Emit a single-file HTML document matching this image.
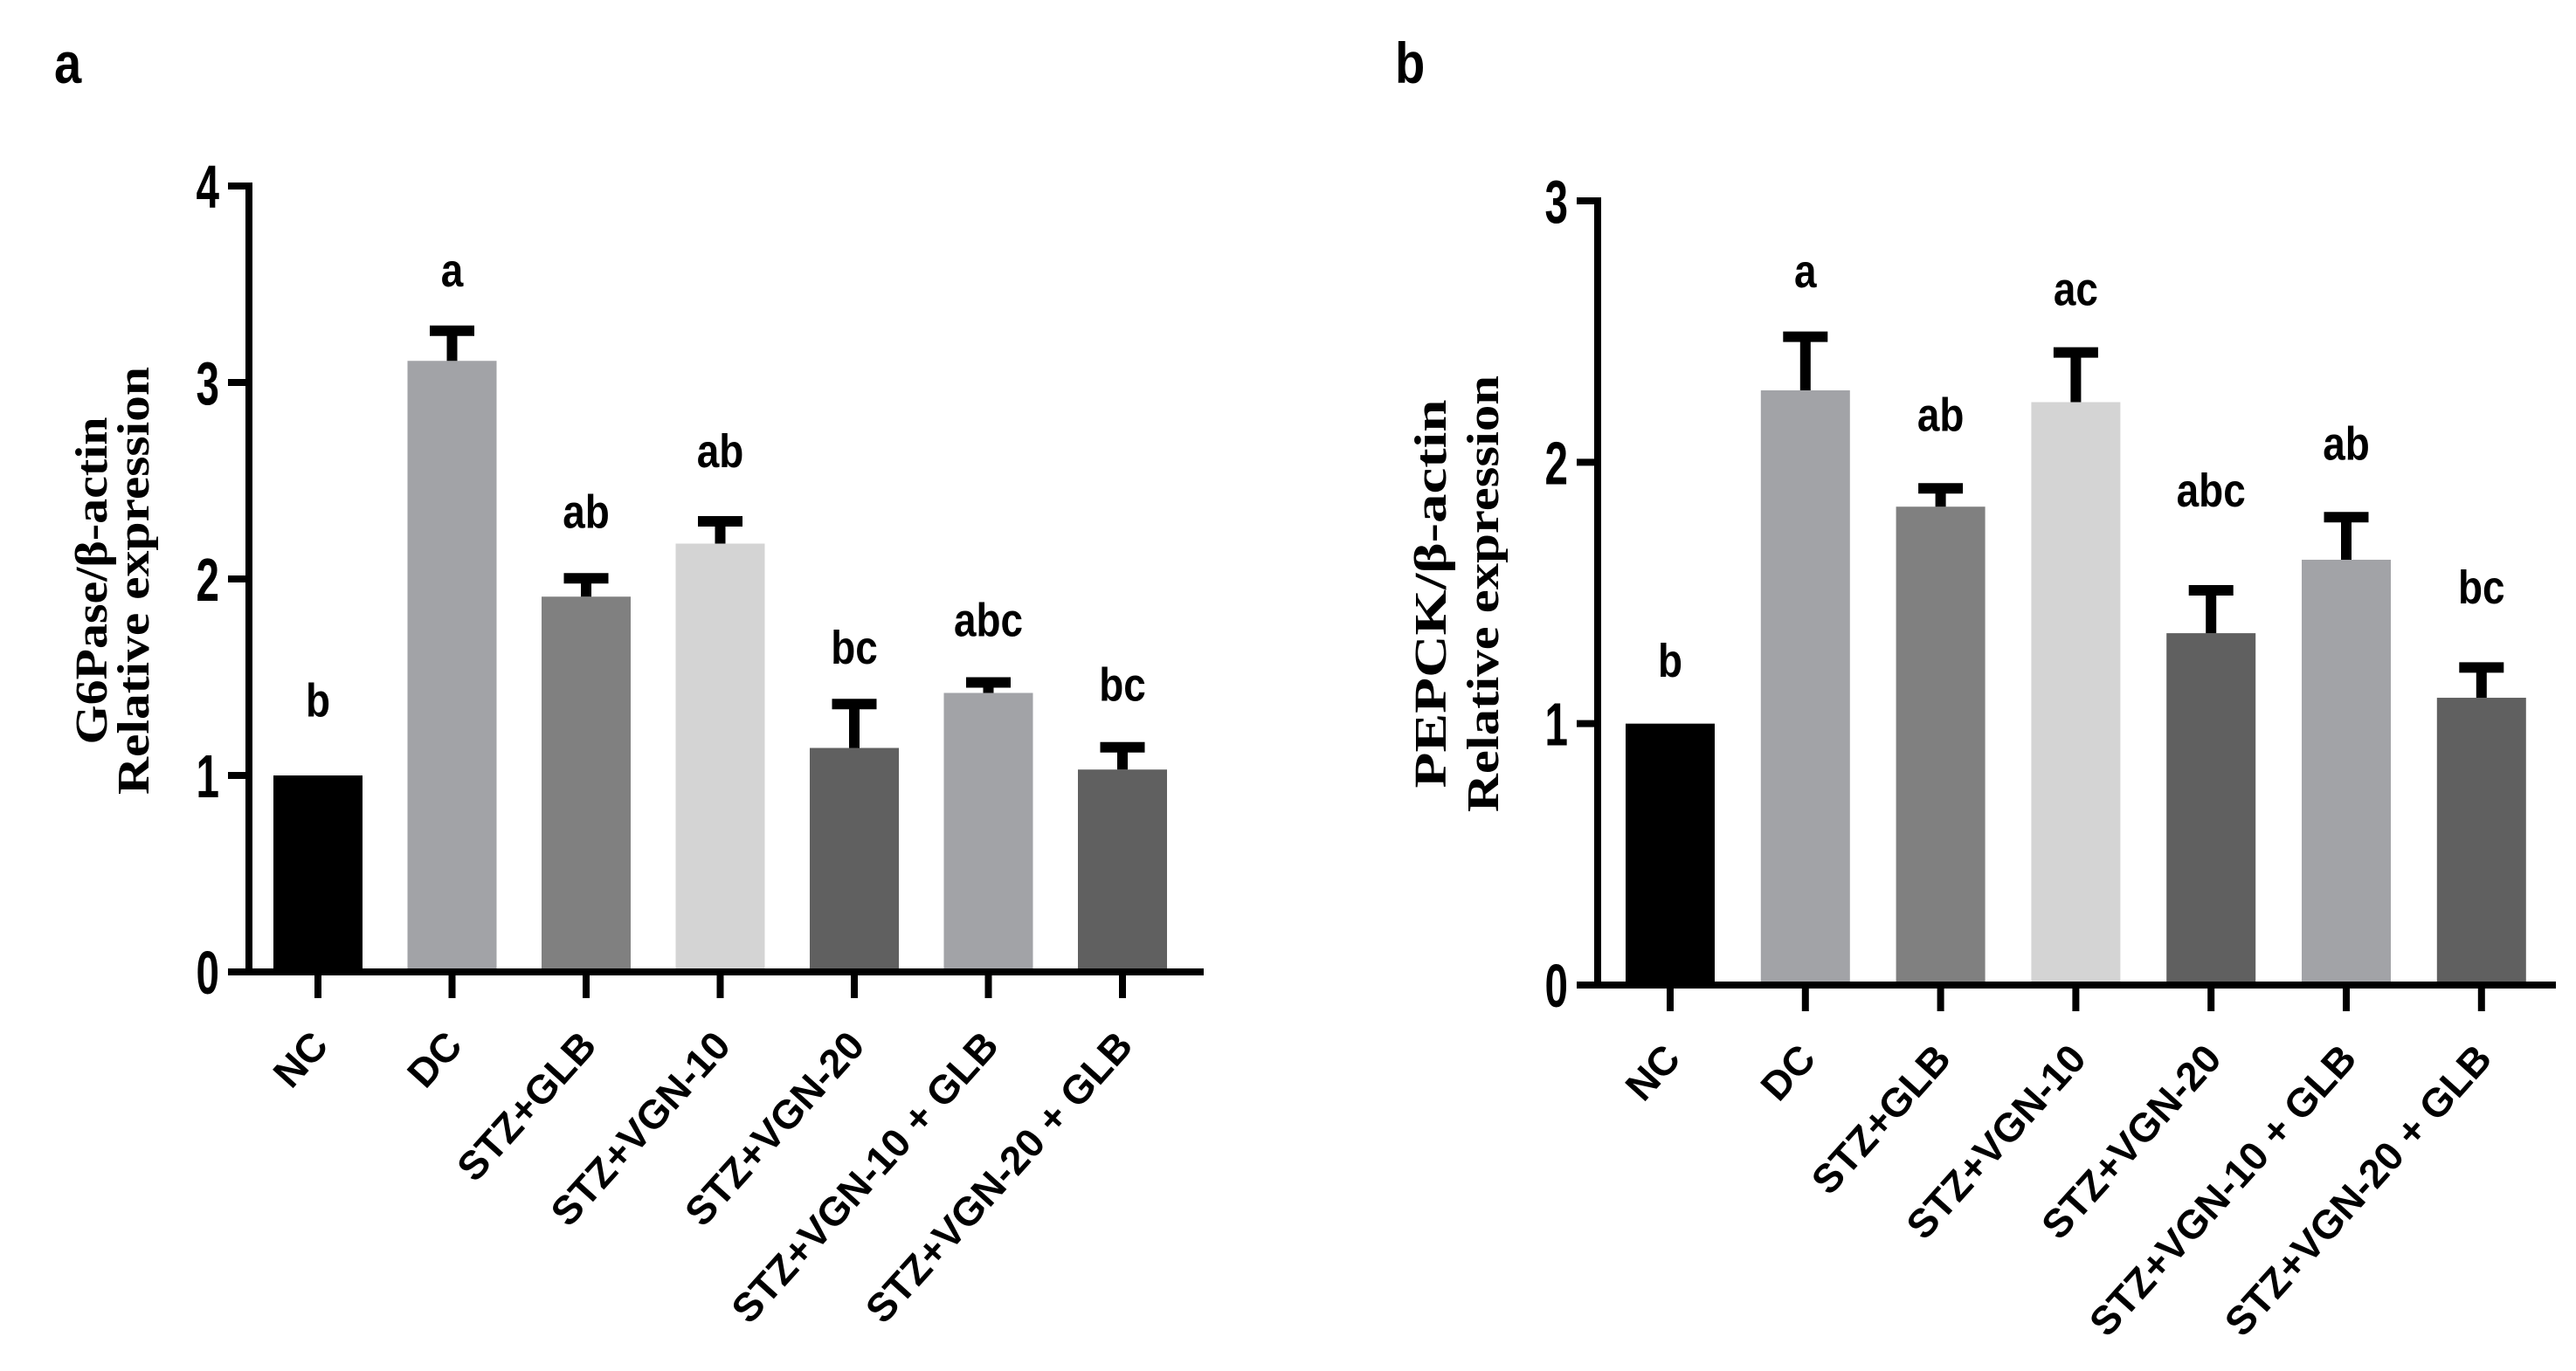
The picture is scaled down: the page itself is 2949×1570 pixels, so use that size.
<!DOCTYPE html>
<html><head><meta charset="utf-8"><style>
html,body{margin:0;padding:0;background:#fff;}
svg{display:block;}
text{font-family:"Liberation Sans",sans-serif;font-weight:bold;}
</style></head><body>
<svg id="fig" width="2949" height="1570" viewBox="0 0 2949 1570" xmlns="http://www.w3.org/2000/svg">
<rect width="2949" height="1570" fill="#fff"/>
</svg>
<script>
const categories = ["NC","DC","STZ+GLB","STZ+VGN-10","STZ+VGN-20","STZ+VGN-10 + GLB","STZ+VGN-20 + GLB"];
const colors = ["#000000","#a2a3a7","#808080","#d4d4d4","#606060","#a2a3a7","#606060"];
const g6pValues = [1.0, 3.11, 1.91, 2.18, 1.14, 1.42, 1.03];
const g6pErrTops = [1.0, 3.29, 2.03, 2.32, 1.39, 1.50, 1.17];
const g6pLetters = ["b","a","ab","ab","bc","abc","bc"];
const g6pLetterY = [1.30, 3.49, 2.26, 2.57, 1.57, 1.71, 1.38];
const g6pTicks = [0,1,2,3,4];
const pepValues = [1.0, 2.275, 1.83, 2.23, 1.346, 1.627, 1.099];
const pepErrTops = [1.0, 2.50, 1.92, 2.44, 1.53, 1.81, 1.235];
const pepLetters = ["b","a","ab","ac","abc","ab","bc"];
const pepLetterY = [1.18, 2.67, 2.12, 2.60, 1.83, 2.01, 1.46];
const pepTicks = [0,1,2,3];

const NS="http://www.w3.org/2000/svg";
const svg=document.getElementById('fig');
function mk(tag,attrs,parent,txt){const e=document.createElementNS(NS,tag);for(const k in attrs)e.setAttribute(k,attrs[k]);if(txt!==undefined)e.textContent=txt;(parent||svg).appendChild(e);return e;}

function panel(o){
  const g=mk('g',{});
  
  
  const y=v=>o.y0-(v/o.ymax)*(o.y0-o.ytop);
  const x=i=>o.xfirst+i*o.step;
  const pl=mk('text',{x:0,y:0,'font-size':66,transform:`translate(${o.plx},${o.ply}) scale(0.85,1)`},g,o.letter);
  
  
  const yt=mk('g',{transform:`translate(${o.tx},${o.ty}) rotate(-90)`},g);
  
  
  const st='font-family:"Liberation Serif",serif;font-weight:bold';
  mk('text',{x:0,y:0,'text-anchor':'middle','font-size':52,style:st,textLength:o.len1,lengthAdjust:'spacingAndGlyphs'},yt,o.title1);
  mk('text',{x:0,y:o.gap,'text-anchor':'middle','font-size':52,style:st,textLength:o.len2,lengthAdjust:'spacingAndGlyphs'},yt,'Relative expression');
  o.values.forEach((v,i)=>{
    const b=mk('rect',{x:x(i)-51,y:y(v),width:102,height:y(0)-y(v),fill:colors[i]},g);
    
    
    if(o.errs[i]>v+0.001){
      const e=mk('path',{d:`M${x(i)},${y(v)} V${y(o.errs[i])} M${x(i)-25.5},${y(o.errs[i])+6} H${x(i)+25.5}`,stroke:'#000','stroke-width':12,fill:'none'},g);
      
      
    }
    const l=mk('text',{x:0,y:0,'text-anchor':'middle','font-size':54,transform:`translate(${x(i)},${y(o.lets[i])}) scale(0.85,1)`},g,o.letters[i]);
    
    
    const xt=mk('line',{x1:x(i),x2:x(i),y1:o.y0,y2:o.y0+30,stroke:'#000','stroke-width':8},g);
    
    
    const xl=mk('text',{transform:`translate(${x(i)+14},${o.y0+86}) rotate(-48)`,'text-anchor':'end','font-size':46},g,categories[i]);
    
    
  });
  const ya=mk('line',{x1:o.ax,x2:o.ax,y1:o.ytop-4,y2:o.y0+4,stroke:'#000','stroke-width':8},g);
  
  
  const xa=mk('line',{x1:o.ax-4,x2:o.axend,y1:o.y0,y2:o.y0,stroke:'#000','stroke-width':8},g);
  
  
  o.ticks.forEach(t=>{
    const tk=mk('line',{x1:o.ax-24,x2:o.ax,y1:y(t),y2:y(t),stroke:'#000','stroke-width':8},g);
    
    
    const tl=mk('text',{x:0,y:0,'text-anchor':'end','font-size':70,transform:`translate(${o.ax-34},${y(t)+25}) scale(0.68,1)`},g,String(t));
    
    
  });
}
panel({name:'panel-a-g6pase',letter:'a',plx:62,ply:95,tx:122,ty:665,gap:48,len1:375,len2:490,title1:'G6Pase/β-actin',
  values:g6pValues,errs:g6pErrTops,letters:g6pLetters,lets:g6pLetterY,ticks:g6pTicks,ymax:4,
  ax:285,axend:1378,ytop:213,y0:1113,xfirst:364,step:153.5});
panel({name:'panel-b-pepck',letter:'b',plx:1597,ply:95,tx:1655,ty:680,gap:60,len1:445,len2:500,title1:'PEPCK/β-actin',
  values:pepValues,errs:pepErrTops,letters:pepLetters,lets:pepLetterY,ticks:pepTicks,ymax:3,
  ax:1829,axend:2926,ytop:230,y0:1128,xfirst:1912,step:154.8});
</script>
</body></html>
